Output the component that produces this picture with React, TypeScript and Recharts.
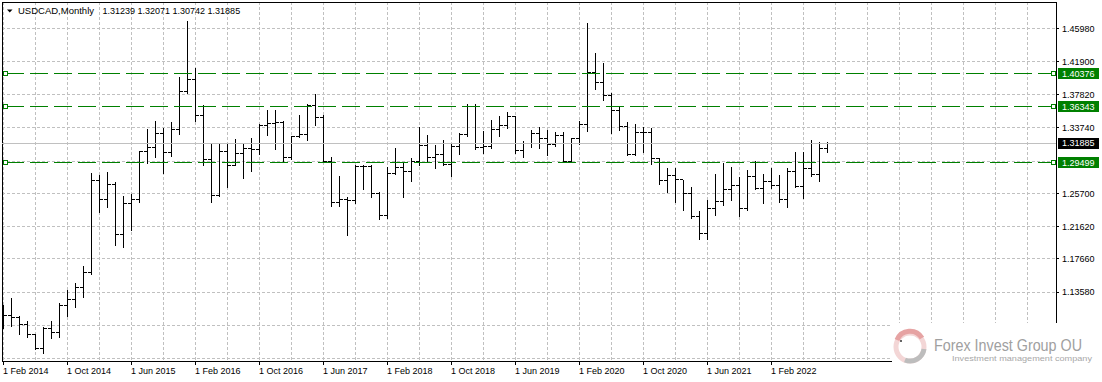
import React from "react";
import {
  ComposedChart,
  Bar,
  XAxis,
  YAxis,
  CartesianGrid,
  ReferenceLine
} from "recharts";

// monthly bars, Feb 2014 .. Sep 2022
const opens = [
  1.1070, 1.1064, 1.1051, 1.0965, 1.0834, 1.0667, 1.0912, 1.0863, 1.1195, 1.1269, 1.1420,
  1.1600, 1.2734, 1.2497, 1.2685, 1.2067, 1.2448, 1.2497, 1.3087, 1.3136, 1.3308, 1.3074, 1.3357,
  1.3820, 1.3975, 1.3530, 1.2988, 1.2548, 1.3090, 1.2918, 1.3060, 1.3124, 1.3114, 1.3410, 1.3430,
  1.3435, 1.3013, 1.3267, 1.3298, 1.3653, 1.3500, 1.2967, 1.2452, 1.2497, 1.2480, 1.2900, 1.2903,
  1.2563, 1.2301, 1.2811, 1.2891, 1.2838, 1.2961, 1.3158, 1.3010, 1.3047, 1.2925, 1.3150, 1.3294,
  1.3637, 1.3131, 1.3150, 1.3357, 1.3402, 1.3520, 1.3091, 1.3186, 1.3311, 1.3243, 1.3170, 1.3279,
  1.2962, 1.3239, 1.3417, 1.4060, 1.3930, 1.3770, 1.3590, 1.3395, 1.3053, 1.3316, 1.3320, 1.2998,
  1.2725, 1.2789, 1.2737, 1.2568, 1.2283, 1.2075, 1.2390, 1.2475, 1.2620, 1.2670, 1.2380, 1.2779,
  1.2633, 1.2716, 1.2668, 1.2495, 1.2842, 1.2652, 1.2880, 1.2807, 1.31239
];
const highs = [
  1.1199, 1.1281, 1.1067, 1.1002, 1.0843, 1.0925, 1.1002, 1.1219, 1.1383, 1.1465, 1.1678,
  1.2817, 1.2800, 1.2837, 1.2714, 1.2538, 1.2562, 1.3094, 1.3361, 1.3457, 1.3378, 1.3451, 1.4003,
  1.4690, 1.4107, 1.3659, 1.3172, 1.3187, 1.3190, 1.3242, 1.3184, 1.3254, 1.3420, 1.3599, 1.3598,
  1.3457, 1.3281, 1.3536, 1.3665, 1.3794, 1.3536, 1.3021, 1.2778, 1.2521, 1.2916, 1.2916, 1.2921,
  1.2589, 1.2888, 1.3125, 1.2946, 1.3000, 1.3386, 1.3291, 1.3169, 1.3224, 1.3173, 1.3317, 1.3665,
  1.3664, 1.3340, 1.3469, 1.3520, 1.3565, 1.3524, 1.3208, 1.3346, 1.3383, 1.3348, 1.3328, 1.3321,
  1.3245, 1.3465, 1.4667, 1.4299, 1.4173, 1.3804, 1.3647, 1.3450, 1.3419, 1.3390, 1.3370, 1.3004,
  1.2881, 1.2881, 1.2738, 1.2651, 1.2350, 1.2487, 1.2808, 1.2948, 1.2896, 1.2775, 1.2856, 1.2964,
  1.2813, 1.2878, 1.2794, 1.2877, 1.3076, 1.3078, 1.3224, 1.3207, 1.32071
];
const lows = [
  1.0912, 1.0944, 1.0846, 1.0809, 1.0662, 1.0613, 1.0797, 1.0809, 1.1064, 1.1178, 1.1301,
  1.1574, 1.2345, 1.2406, 1.1936, 1.1915, 1.2120, 1.2468, 1.2939, 1.3013, 1.2824, 1.3031, 1.3300,
  1.3800, 1.3455, 1.2922, 1.2460, 1.2542, 1.2652, 1.2915, 1.2762, 1.2844, 1.3048, 1.3292, 1.3119,
  1.2969, 1.2995, 1.3262, 1.3222, 1.3412, 1.2963, 1.2414, 1.2413, 1.2061, 1.2446, 1.2630, 1.2528,
  1.2250, 1.2263, 1.2804, 1.2527, 1.2728, 1.2916, 1.2962, 1.2886, 1.2917, 1.2782, 1.3049, 1.3272,
  1.3120, 1.3068, 1.3130, 1.3273, 1.3375, 1.3065, 1.3016, 1.3134, 1.3133, 1.3042, 1.3157, 1.2951,
  1.2957, 1.3180, 1.3334, 1.3850, 1.3714, 1.3316, 1.3346, 1.3045, 1.3037, 1.3081, 1.2928, 1.2688,
  1.2589, 1.2468, 1.2365, 1.2268, 1.2007, 1.2007, 1.2302, 1.2422, 1.2494, 1.2287, 1.2360, 1.2622,
  1.2451, 1.2635, 1.2468, 1.2403, 1.2648, 1.2517, 1.2788, 1.2727, 1.30742
];
const closes = [
  1.1064, 1.1051, 1.0965, 1.0834, 1.0667, 1.0912, 1.0863, 1.1195, 1.1269, 1.1420, 1.1600,
  1.2734, 1.2497, 1.2685, 1.2067, 1.2448, 1.2497, 1.3087, 1.3136, 1.3308, 1.3074, 1.3357, 1.3820,
  1.3975, 1.3530, 1.2988, 1.2548, 1.3090, 1.2918, 1.3060, 1.3124, 1.3114, 1.3410, 1.3430, 1.3435,
  1.3013, 1.3267, 1.3298, 1.3653, 1.3500, 1.2967, 1.2452, 1.2497, 1.2480, 1.2900, 1.2903, 1.2563,
  1.2301, 1.2811, 1.2891, 1.2838, 1.2961, 1.3158, 1.3010, 1.3047, 1.2925, 1.3150, 1.3294, 1.3637,
  1.3131, 1.3150, 1.3357, 1.3402, 1.3520, 1.3091, 1.3186, 1.3311, 1.3243, 1.3170, 1.3279, 1.2962,
  1.3239, 1.3417, 1.4060, 1.3930, 1.3770, 1.3590, 1.3395, 1.3053, 1.3316, 1.3320, 1.2998, 1.2725,
  1.2789, 1.2737, 1.2568, 1.2283, 1.2075, 1.2390, 1.2475, 1.2620, 1.2670, 1.2380, 1.2779, 1.2633,
  1.2716, 1.2668, 1.2495, 1.2842, 1.2652, 1.2880, 1.2807, 1.3124, 1.31885
];

const xTickLabels = [
  "1 Feb 2014", "1 Oct 2014", "1 Jun 2015", "1 Feb 2016", "1 Oct 2016", "1 Jun 2017", "1 Feb 2018",
  "1 Oct 2018", "1 Jun 2019", "1 Feb 2020", "1 Oct 2020", "1 Jun 2021", "1 Feb 2022"
];
const yTicks = [1.0542, 1.095, 1.1358, 1.1766, 1.2162, 1.257, 1.2966, 1.3374, 1.3782, 1.419, 1.4598];
const hiddenYLabels = [1.0542, 1.2966];
const greenLevels = [1.40376, 1.36343, 1.29499];
const lastPrice = 1.31885;

const X_DOMAIN: [number, number] = [-0.1875, 131.5625];
const Y_DOMAIN: [number, number] = [1.0511, 1.4921];
const FONT = "'Liberation Sans', Arial, sans-serif";

const data = opens.map((o, i) => ({
  i,
  open: o,
  high: highs[i],
  low: lows[i],
  close: closes[i]
}));

const gridTicks: number[] = [];
for (let t = 0; t <= 128; t += 4) gridTicks.push(t);

const OhlcBar = (props: any) => {
  const { x, y, width, height, payload } = props;
  if (x == null || y == null) return null;
  const cx = x + width / 2;
  const top = Math.min(y, y + height);
  const bottom = Math.max(y, y + height);
  const span = payload.high - payload.low || 1;
  const yo = top + ((payload.high - payload.open) / span) * (bottom - top);
  const yc = top + ((payload.high - payload.close) / span) * (bottom - top);
  return (
    <g stroke="#000" strokeWidth={1}>
      <line x1={cx} x2={cx} y1={top} y2={bottom + 1} />
      <line x1={cx - 3.5} x2={cx - 0.5} y1={yo} y2={yo} />
      <line x1={cx + 0.5} x2={cx + 3.5} y1={yc} y2={yc} />
    </g>
  );
};

const XTick = (props: any) => {
  const { x, y, payload } = props;
  const v = payload.value;
  if (v % 8 !== 0 || v / 8 >= xTickLabels.length) return null;
  return (
    <g>
      <line x1={x} x2={x} y1={y} y2={y + 4} stroke="#000" />
      <text x={x - 0.5} y={y + 13} fontSize={9} fontFamily={FONT} fill="#000">
        {xTickLabels[v / 8]}
      </text>
    </g>
  );
};

const YTick = (props: any) => {
  const { x, y, payload } = props;
  if (hiddenYLabels.includes(payload.value)) return null;
  return (
    <g>
      <line x1={x} x2={x + 3} y1={y} y2={y} stroke="#000" />
      <text x={x + 6} y={y + 3.3} fontSize={9} fontFamily={FONT} fill="#000">
        {payload.value.toFixed(5)}
      </text>
    </g>
  );
};

const LevelTag = (props: any) => {
  const { viewBox, value, fill, squares } = props;
  if (!viewBox) return null;
  const { x, y, width } = viewBox;
  const right = x + width;
  return (
    <g>
      {squares && (
        <>
          <rect x={x + 1.5} y={y - 2} width={4} height={4} fill="#fff" stroke={fill} />
          <rect x={right - 4.5} y={y - 2} width={4} height={4} fill="#fff" stroke={fill} />
        </>
      )}
      <rect x={right + 2} y={y - 5.5} width={41} height={11} fill={fill} stroke="none" />
      <text x={right + 6} y={y + 3.3} fontSize={9} fontFamily={FONT} fill="#fff">
        {value.toFixed(5)}
      </text>
    </g>
  );
};

const App: React.FC = () => {
  return (
    <div style={{ position: "absolute", left: 0, top: 0, width: 1102, height: 382, background: "#fff" }}>
      <style>{".recharts-surface line, .recharts-surface rect { shape-rendering: crispEdges; }"}</style>
      <ComposedChart
        width={1102}
        height={382}
        data={data}
        margin={{ top: 2, right: 0, bottom: 0, left: 2 }}
      >
        <CartesianGrid stroke="#c0c0c0" strokeDasharray="3 2" />
        <XAxis
          dataKey="i"
          type="number"
          domain={X_DOMAIN}
          allowDataOverflow
          ticks={gridTicks}
          interval={0}
          height={21}
          tickSize={0}
          tickMargin={0}
          tickLine={false}
          axisLine={{ stroke: "#000" }}
          tick={<XTick />}
        />
        <YAxis
          orientation="right"
          type="number"
          domain={Y_DOMAIN}
          allowDataOverflow
          ticks={yTicks}
          interval={0}
          width={46}
          tickSize={0}
          tickMargin={0}
          tickLine={false}
          axisLine={{ stroke: "#000" }}
          tick={<YTick />}
        />
        <ReferenceLine y={Y_DOMAIN[1]} stroke="#000" />
        <ReferenceLine x={X_DOMAIN[0]} stroke="#000" />
        <ReferenceLine
          y={lastPrice}
          stroke="#c0c0c0"
          label={<LevelTag value={lastPrice} fill="#000" squares={false} />}
        />
        {greenLevels.map((v) => (
          <ReferenceLine
            key={v}
            y={v}
            stroke="#008000"
            strokeDasharray="18 6"
            label={<LevelTag value={v} fill="#008000" squares />}
          />
        ))}
        <Bar
          dataKey={(d: any) => [d.low, d.high]}
          barSize={1}
          shape={<OhlcBar />}
          isAnimationActive={false}
        />
      </ComposedChart>
      <svg
        width={1102}
        height={382}
        style={{ position: "absolute", left: 0, top: 0, pointerEvents: "none" }}
      >
        <polygon points="7,9.5 12.5,9.5 9.75,12.5" fill="#000" />
        <text x={18} y={14} fontSize={9} fontFamily={FONT} fill="#000" textLength={76} lengthAdjust="spacingAndGlyphs">
          USDCAD,Monthly
        </text>
        <text x={102.5} y={14} fontSize={9} fontFamily={FONT} fill="#000">
          1.31239 1.32071 1.30742 1.31885
        </text>
        <rect x={892} y={323} width={210} height={59} fill="#fff" />
        <circle cx={910} cy={347} r={14} fill="none" stroke="#f3d6d6" strokeWidth={5} />
        <path d="M 897 340 A 14 14 0 0 1 922 338" fill="none" stroke="#e6a3a3" strokeWidth={5} />
        <path d="M 924 349 A 14 14 0 0 1 905 360" fill="none" stroke="#bdbdbd" strokeWidth={5} />
        <circle cx={901} cy={341} r={1} fill="#333" />
        <text x={934} y={350.5} fontSize={16} fontFamily={FONT} fill="#a0a0a0" textLength={148} lengthAdjust="spacingAndGlyphs">
          Forex Invest Group OU
        </text>
        <text x={952} y={360.5} fontSize={8} fontFamily={FONT} fill="#a8a8a8" textLength={140} lengthAdjust="spacingAndGlyphs">
          Investment management company
        </text>
      </svg>
    </div>
  );
};

export default App;
